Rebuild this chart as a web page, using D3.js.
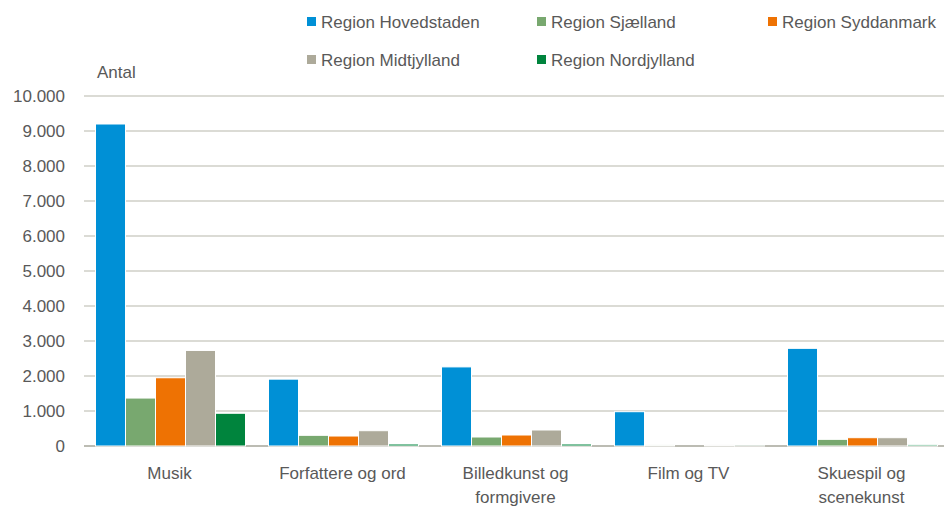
<!DOCTYPE html>
<html><head><meta charset="utf-8">
<script src="https://cdn.jsdelivr.net/npm/d3@7"></script>
<style>body{margin:0;background:#fff}svg{display:block}text{font-family:"Liberation Sans",Arial,sans-serif;fill:#595959}</style>
</head><body><svg id="c" width="944" height="507"></svg>
<script>
const categories = [["Musik"],["Forfattere og ord"],["Billedkunst og","formgivere"],["Film og TV"],["Skuespil og","scenekunst"]];
const seriesNames = ["Region Hovedstaden","Region Sjælland","Region Syddanmark","Region Midtjylland","Region Nordjylland"];
const colors = ["#0090D6","#78A86F","#EE7203","#ADAA9A","#00843D"];
const hovedstaden = [9200, 1910, 2260, 980, 2790];
const sjaelland = [1370, 305, 257, 30, 190];
const syddanmark = [1950, 285, 314, 0, 237];
const midtjylland = [2730, 437, 457, 30, 237];
const nordjylland = [935, 57, 57, 5, 37];
const yTicks = [0,1000,2000,3000,4000,5000,6000,7000,8000,9000,10000];
const series = [hovedstaden, sjaelland, syddanmark, midtjylland, nordjylland];

(function(){
const svg = d3.select("#c");
const mL = 84, mR = 949, mT = 96, mB = 446;
const x0 = d3.scaleBand().domain(d3.range(categories.length)).range([mL, mR]);
const groupW = 150;
const x1 = d3.scaleBand().domain(d3.range(series.length)).range([0, groupW]);
const y = d3.scaleLinear().domain([0, 10000]).range([mB, mT]);
const fmt = v => d3.format(",")(v).replace(/,/g, ".");

svg.append("g").selectAll("line").data(yTicks).join("line")
  .attr("x1", mL).attr("x2", 944).attr("y1", d => y(d)).attr("y2", d => y(d))
  .attr("stroke", d => d === 0 ? "#A6A69A" : "#B8B8AC").attr("stroke-width", d => d===0?1.5:1.2);

svg.append("g").selectAll("text").data(yTicks).join("text")
  .attr("x", 65).attr("y", d => y(d)).attr("dy", "0.36em").attr("text-anchor", "end")
  .attr("font-size", 17).text(fmt);

svg.append("text").attr("x", 97).attr("y", 78).attr("font-size", 17).text("Antal");

const off = (x0.bandwidth() - groupW) / 2;
series.forEach((s, si) => {
  svg.append("g").selectAll("rect").data(s).join("rect")
    .attr("x", (d, i) => x0(i) + off + x1(si))
    .attr("width", x1.bandwidth())
    .attr("y", d => y(d)).attr("height", d => mB - y(d))
    .attr("fill", colors[si]).attr("stroke", "#fff").attr("stroke-width", 1);
});

const cg = svg.append("g");
categories.forEach((lines, i) => {
  const cx = x0(i) + x0.bandwidth()/2 - 1;
  const t = cg.append("text").attr("x", cx).attr("y", 479)
    .attr("text-anchor", "middle").attr("font-size", 17);
  lines.forEach((l, j) => t.append("tspan").attr("x", cx).attr("dy", j ? 24 : 0).text(l));
});

const legPos = [[307,22],[537,22],[768,22],[307,60],[537,60]];
seriesNames.forEach((n, i) => {
  const [lx, ly] = legPos[i];
  svg.append("rect").attr("x", lx).attr("y", ly - 5).attr("width", 9).attr("height", 9).attr("fill", colors[i]);
  svg.append("text").attr("x", lx + 14).attr("y", ly).attr("dy", "0.36em").attr("font-size", 17).text(n);
});
})();
</script></body></html>
